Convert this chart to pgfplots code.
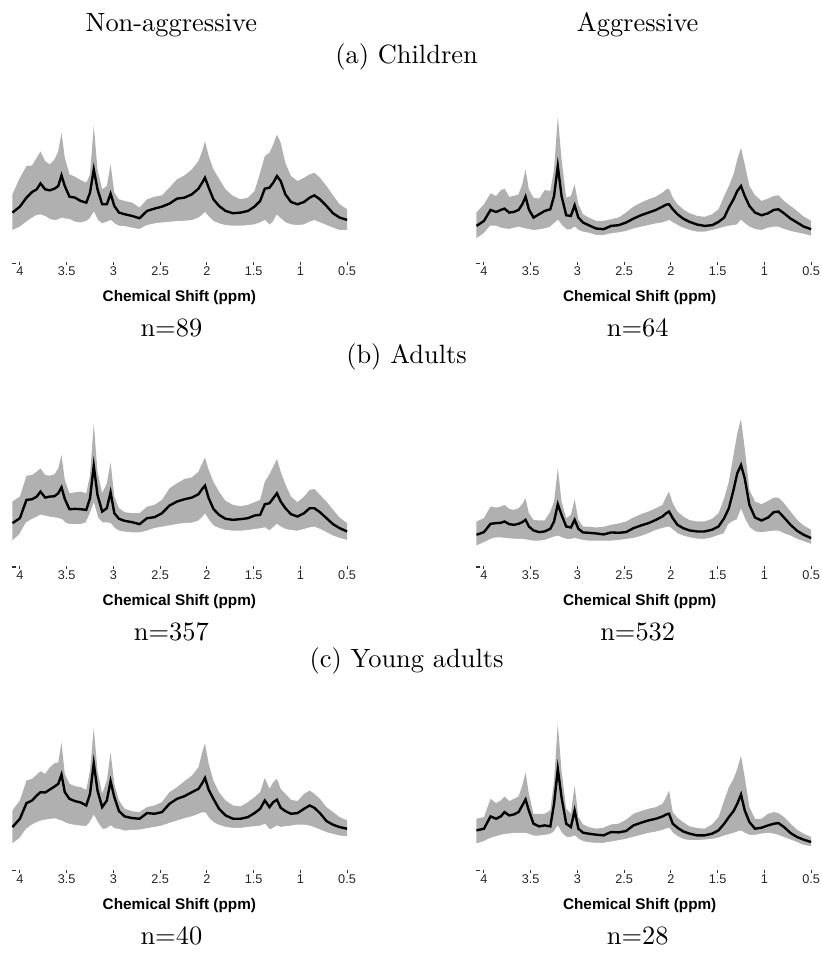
\documentclass[border=0pt]{standalone}
\usepackage{pgfplots}
\pgfplotsset{compat=1.18}
\usepackage{pgfplotstable}
\usepackage{fontspec}
\newfontfamily\arialf{Liberation Sans}
\definecolor{band}{RGB}{176,176,176}

% columns: ppm, lower band, mean, upper band (arbitrary intensity)
\pgfplotstableread{
x lo m hi
4.08 103 158 213
4.00 113 176 263
3.93 128 203 298
3.87 140 220 300
3.82 148 228 323
3.78 150 246 342
3.73 145 228 313
3.68 136 225 303
3.63 133 230 318
3.59 135 238 343
3.555 140 270 398
3.52 138 238 323
3.47 136 206 273
3.41 128 203 266
3.35 126 193 256
3.29 130 188 248
3.25 138 218 273
3.21 156 288 420
3.17 133 228 288
3.12 123 183 228
3.07 128 183 238
3.03 133 215 303
2.99 123 178 218
2.94 116 158 198
2.88 115 153 193
2.80 110 148 188
2.72 106 141 173
2.64 118 163 198
2.56 123 170 206
2.48 126 176 210
2.40 128 185 233
2.32 130 200 258
2.24 131 203 270
2.16 133 213 288
2.09 140 230 313
2.05 148 248 343
2.02 156 263 373
1.98 143 233 328
1.93 130 198 288
1.87 123 178 260
1.80 118 163 228
1.72 116 156 208
1.64 116 158 198
1.56 118 163 203
1.49 120 176 223
1.43 126 193 278
1.38 133 230 328
1.33 118 233 338
1.29 128 248 363
1.25 148 268 393
1.21 138 253 368
1.16 126 213 308
1.10 120 190 268
1.03 118 183 253
0.96 120 190 263
0.90 128 203 273
0.85 133 210 278
0.79 126 198 263
0.72 118 178 238
0.65 110 156 210
0.58 103 143 183
0.50 103 136 168
}\tA

\pgfplotstableread{
x lo m hi
4.08 78 118 158
4.00 93 133 183
3.93 116 166 216
3.87 116 160 208
3.82 110 166 225
3.78 108 170 230
3.73 106 158 206
3.68 110 160 208
3.63 113 166 213
3.59 110 183 243
3.555 108 206 288
3.52 106 168 228
3.47 103 143 203
3.41 105 153 200
3.35 108 163 226
3.29 113 168 223
3.25 123 208 288
3.21 133 298 448
3.17 118 208 318
3.12 105 150 203
3.07 105 148 208
3.03 113 180 243
2.99 103 143 183
2.94 98 128 153
2.88 95 120 143
2.80 88 110 133
2.72 88 108 133
2.64 93 118 138
2.56 96 120 143
2.48 100 128 158
2.40 108 140 176
2.32 113 150 188
2.24 118 158 198
2.16 123 166 206
2.09 126 176 218
2.05 130 182 228
2.02 133 183 230
1.98 126 168 203
1.93 118 153 183
1.87 110 140 168
1.80 103 130 156
1.72 98 122 148
1.64 98 118 145
1.56 103 120 153
1.49 108 130 168
1.43 113 143 208
1.38 116 173 238
1.33 118 198 273
1.29 120 223 318
1.25 133 238 353
1.21 123 208 303
1.16 113 178 238
1.10 106 158 210
1.03 103 150 193
0.96 110 156 200
0.90 113 166 208
0.85 113 168 210
0.79 106 156 193
0.72 100 140 178
0.65 96 128 163
0.58 92 116 146
0.50 86 108 133
}\tB

\pgfplotstableread{
x lo m hi
4.08 83 138 203
4.00 103 153 218
3.93 138 208 281
3.87 148 210 283
3.82 155 218 293
3.78 161 233 303
3.73 158 215 283
3.68 155 218 281
3.63 153 219 285
3.59 151 228 303
3.555 148 246 343
3.52 138 211 268
3.47 133 180 228
3.41 133 181 231
3.35 133 180 233
3.29 138 178 228
3.25 163 213 283
3.21 193 311 438
3.17 153 223 293
3.12 138 173 228
3.07 138 183 258
3.03 135 231 321
2.99 121 168 218
2.94 113 151 183
2.88 110 145 171
2.80 108 141 168
2.72 108 135 168
2.64 113 153 188
2.56 121 156 193
2.48 125 168 208
2.40 129 191 243
2.32 133 203 258
2.24 136 210 271
2.16 137 215 276
2.09 143 225 293
2.05 153 241 318
2.02 163 251 335
1.98 145 213 298
1.93 128 181 263
1.87 121 163 233
1.80 115 151 205
1.72 113 148 193
1.64 113 150 189
1.56 115 153 193
1.49 118 161 201
1.43 120 163 208
1.38 123 195 263
1.33 113 198 285
1.29 123 213 308
1.25 133 228 331
1.21 125 203 293
1.16 118 183 255
1.10 115 165 218
1.03 113 158 201
0.96 118 168 218
0.90 123 183 238
0.85 125 183 241
0.79 118 171 223
0.72 108 153 203
0.65 98 135 178
0.58 91 123 155
0.50 85 113 138
}\tC

\pgfplotstableread{
x lo m hi
4.08 68 103 143
4.00 78 111 153
3.93 88 136 188
3.87 93 138 185
3.82 93 139 188
3.78 91 143 193
3.73 90 135 181
3.68 89 133 178
3.63 88 136 183
3.59 88 141 195
3.555 87 148 213
3.52 85 128 168
3.47 83 116 148
3.41 83 111 146
3.35 85 113 146
3.29 91 121 173
3.25 95 143 203
3.21 98 195 303
3.17 93 163 203
3.12 88 128 153
3.07 88 125 163
3.03 91 148 210
2.99 88 121 148
2.94 85 110 128
2.88 83 109 127
2.80 83 107 125
2.72 83 104 127
2.64 83 110 133
2.56 85 109 137
2.48 88 111 143
2.40 91 123 155
2.32 97 131 165
2.24 105 138 173
2.16 115 148 183
2.09 121 158 193
2.05 124 168 218
2.02 125 173 233
1.98 116 153 198
1.93 105 133 173
1.87 98 123 158
1.80 93 116 147
1.72 89 113 143
1.64 88 113 143
1.56 93 118 151
1.49 100 128 168
1.43 105 153 213
1.38 133 183 263
1.33 143 238 343
1.29 147 288 408
1.25 175 313 451
1.21 148 273 363
1.16 123 193 238
1.10 111 155 203
1.03 108 146 195
0.96 111 155 205
0.90 113 171 215
0.85 113 173 215
0.79 105 155 198
0.72 98 133 173
0.65 88 115 148
0.58 81 103 131
0.50 73 93 118
}\tD

\pgfplotstableread{
x lo m hi
4.08 86 138 188
4.00 103 163 218
3.93 130 210 278
3.87 143 218 283
3.82 150 233 296
3.78 155 243 306
3.73 158 242 298
3.68 160 251 318
3.63 162 260 330
3.59 158 268 333
3.555 155 296 393
3.52 150 243 298
3.47 145 223 268
3.41 142 216 261
3.35 140 212 258
3.29 138 203 250
3.25 150 238 308
3.21 170 330 436
3.17 150 248 308
3.12 130 198 238
3.07 132 218 278
3.03 140 276 363
2.99 132 228 268
2.94 130 186 218
2.88 125 170 193
2.80 127 165 186
2.72 128 163 183
2.64 132 180 198
2.56 136 178 203
2.48 140 183 213
2.40 148 208 243
2.32 155 223 258
2.24 162 231 276
2.16 168 243 293
2.09 175 253 318
2.05 180 270 363
2.02 180 286 390
1.98 163 250 328
1.93 150 223 278
1.87 142 193 243
1.80 136 173 218
1.72 133 163 203
1.64 133 163 200
1.56 136 168 213
1.49 138 180 228
1.43 140 193 243
1.38 145 218 286
1.33 128 198 253
1.29 133 213 273
1.25 140 220 283
1.21 136 196 253
1.16 138 186 238
1.10 140 178 220
1.03 143 180 216
0.96 143 193 238
0.90 140 203 248
0.85 135 196 238
0.79 128 180 223
0.72 120 156 198
0.65 115 145 183
0.58 110 138 168
0.50 108 133 158
}\tE

\pgfplotstableread{
x lo m hi
4.08 86 128 163
4.00 93 133 168
3.93 103 170 223
3.87 108 163 210
3.82 112 170 218
3.78 115 183 230
3.73 116 173 216
3.68 118 176 223
3.63 118 183 230
3.59 118 203 263
3.555 118 221 303
3.52 115 188 238
3.47 110 148 178
3.41 110 140 178
3.35 112 143 178
3.29 115 140 188
3.25 122 208 278
3.21 138 313 448
3.17 118 228 308
3.12 106 148 193
3.07 106 138 178
3.03 110 188 263
2.99 100 133 168
2.94 93 121 146
2.88 90 118 138
2.80 88 115 133
2.72 88 113 136
2.64 92 123 146
2.56 96 122 148
2.48 100 126 160
2.40 106 143 178
2.32 112 151 186
2.24 118 158 193
2.16 122 163 198
2.09 127 170 208
2.05 131 176 228
2.02 133 178 248
1.98 118 148 183
1.93 108 136 166
1.87 100 125 153
1.80 96 118 140
1.72 96 113 135
1.64 98 113 133
1.56 100 118 146
1.49 104 128 168
1.43 110 148 218
1.38 114 168 258
1.33 118 186 283
1.29 122 208 313
1.25 125 236 353
1.21 118 188 288
1.16 112 153 198
1.10 112 133 163
1.03 116 136 163
0.96 118 143 178
0.90 116 148 183
0.85 112 150 180
0.79 105 138 168
0.72 98 120 148
0.65 90 108 130
0.58 82 100 118
0.50 78 93 108
}\tF

\pgfplotsset{
  spec/.style={
    scale only axis, width=126.6pt, height=60.3pt,
    xmin=0.5, xmax=4.08, ymin=0, ymax=480, x dir=reverse,
    axis x line*=bottom, axis y line*=left,
    axis line style={draw=none},
    axis on top, clip=false,
    tick align=inside, major tick length=1.25pt,
    tick style={line width=0.4pt, black!80},
    xtick={0.5,1,1.5,2,2.5,3,3.5,4},
    xticklabels={0.5,1,1.5,2,2.5,3,3.5,4},
    xticklabel style={font=\arialf\fontsize{4.8}{5.5}\selectfont, text=black!85, anchor=center, yshift=-2.4pt, inner sep=0pt},
    ytick={6}, yticklabels={},
    yticklabel style={overlay, inner sep=0pt},
    no markers, anchor=south west,
  }
}

\newcommand\panel[2]{%
\begin{axis}[spec, at={#1}]
\addplot[fill=band, draw=none] table[x=x,y=hi]{#2} \closedcycle;
\addplot[fill=white, draw=white, line width=0.6pt] table[x=x,y=lo]{#2} \closedcycle;
\addplot[black, line width=0.9pt] table[x=x,y=m]{#2};
\end{axis}}

\begin{document}
\begin{tikzpicture}
\panel{(4.71pt,-100.28pt)}{\tA}
\panel{(180.28pt,-100.28pt)}{\tB}
\panel{(4.71pt,-215.27pt)}{\tC}
\panel{(180.28pt,-215.27pt)}{\tD}
\panel{(4.71pt,-330.25pt)}{\tE}
\panel{(180.28pt,-330.25pt)}{\tF}

\begin{scope}[x=0.377pt,y=-0.377pt]
\path (0,0) rectangle (824,954);
\node[anchor=base] at (172,32) {Non-aggressive};
\node[anchor=base] at (640,32) {Aggressive};
\node[anchor=base] at (408,64) {(a) Children};
\node[anchor=base] at (408,365) {(b) Adults};
\node[anchor=base] at (408,670) {(c) Young adults};
\foreach \yy in {299,604,909}{
  \node[font=\arialf\bfseries\fontsize{5.8}{7}\selectfont] at (180,\yy) {Chemical Shift (ppm)};
  \node[font=\arialf\bfseries\fontsize{5.8}{7}\selectfont] at (642,\yy) {Chemical Shift (ppm)};
}
\node[anchor=base] at (172,338) {n=89};
\node[anchor=base] at (640,338) {n=64};
\node[anchor=base] at (172,643) {n=357};
\node[anchor=base] at (640,643) {n=532};
\node[anchor=base] at (172,948) {n=40};
\node[anchor=base] at (640,948) {n=28};
\end{scope}
\end{tikzpicture}
\end{document}
